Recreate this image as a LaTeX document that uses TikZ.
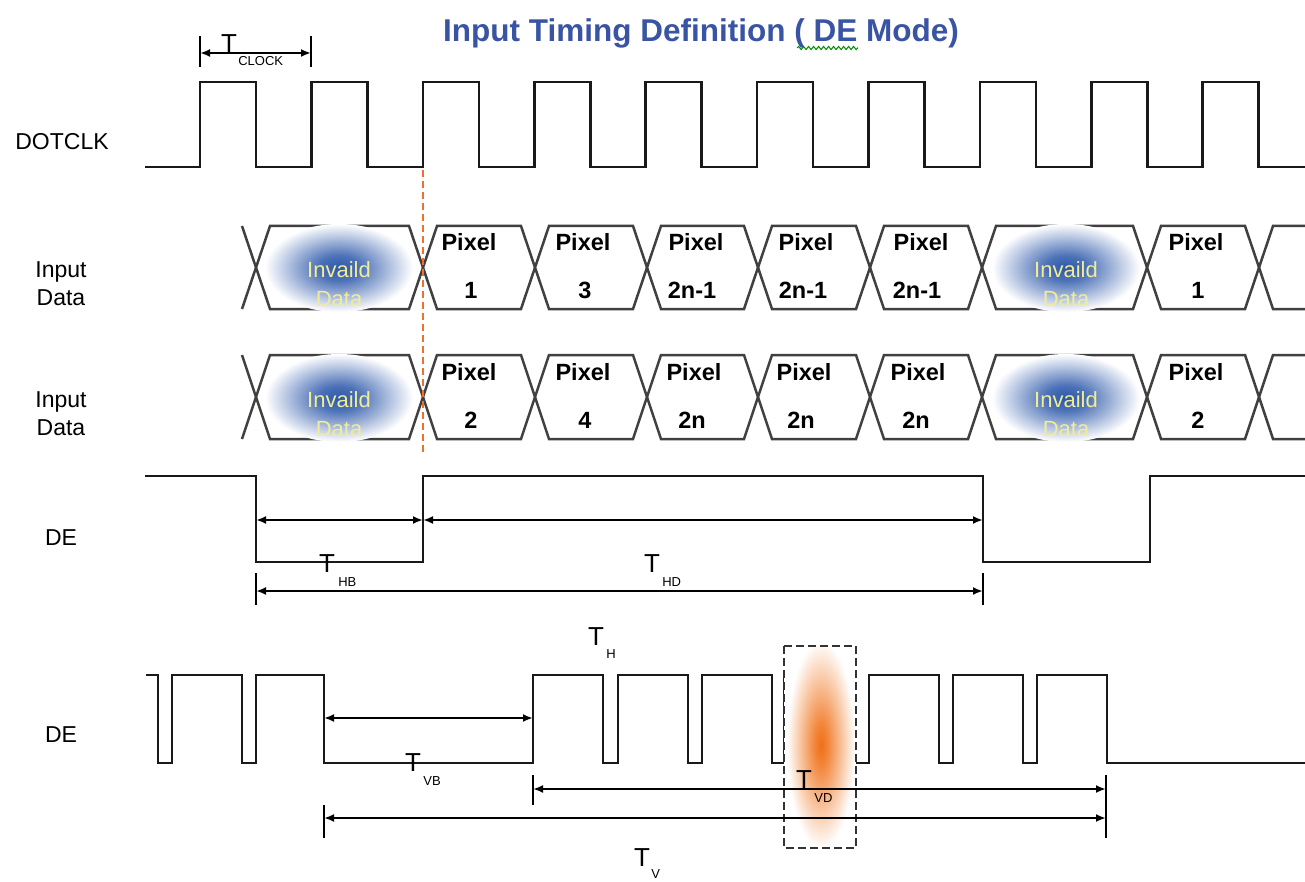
\documentclass[tikz,border=0pt]{standalone}
\usepackage{fontspec}
\setmainfont{Liberation Sans}
\usepackage{xcolor}
\usetikzlibrary{
    arrows.meta,
    positioning,
    calc,
    decorations.pathmorphing
}
\definecolor{titleblue}{RGB}{58,84,164}
\definecolor{blobblue}{RGB}{44,88,170}
\definecolor{bloborange}{RGB}{240,112,24}
\definecolor{paleyellow}{RGB}{242,236,150}
\definecolor{markline}{RGB}{238,112,48}
\pgfdeclareradialshading{invalidblob}{\pgfpoint{0bp}{0bp}}{%
    color(0bp)=(blobblue); color(7bp)=(blobblue!85); color(25bp)=(white); color(50bp)=(white)}
\pgfdeclareradialshading{markblob}{\pgfpoint{0bp}{0bp}}{%
    color(0bp)=(bloborange); color(5bp)=(bloborange!85); color(25bp)=(white); color(50bp)=(white)}
\tikzset{%
    >={Latex[width=8pt,length=10pt]},
    % Specifications for style of nodes:
    wave/.style = {line width=2.6pt, draw=black!90, line join=miter},
    bus/.style = {line width=2.5pt, draw=black!75, line join=miter},
    dim/.style = {<->, line width=2pt},
    bar/.style = {line width=2pt},
    marker/.style = {draw=markline, line width=2.6pt, dash pattern=on 7pt off 4pt},
    boxdash/.style = {draw=black!80, line width=2.6pt, dash pattern=on 8pt off 4pt},
    squiggle/.style = {draw=green!55!black, line width=1pt, decorate,
        decoration={snake, amplitude=1.6pt, segment length=5pt}},
    siglabel/.style = {inner sep=0pt, align=center, font=\fontsize{23}{28}\selectfont},
    pix/.style = {inner sep=0pt, font=\bfseries\fontsize{23.5}{24}\selectfont},
    invalid/.style = {inner sep=0pt, text=paleyellow, font=\fontsize{22}{22}\selectfont},
    tlabel/.style = {inner sep=0pt, font=\fontsize{26}{26}\selectfont},
    tsub/.style = {inner sep=0pt, font=\fontsize{13}{13}\selectfont},
    title/.style = {inner sep=0pt, text=titleblue, font=\bfseries\fontsize{31.5}{32}\selectfont}
}
\begin{document}
\begin{tikzpicture}[x=1pt, y=-1pt]
    \useasboundingbox (0,0) rectangle (1305,882);
    \fill[white] (0,0) rectangle (1305,882);

    \node[title] (title) at (701,33) {Input Timing Definition ( DE Mode)};
    \draw[squiggle] (797,48) -- (858,48);

    \node[siglabel] (clk) at (62,142) {DOTCLK};
    \node[siglabel] (in1) at (61,284) {Input\\Data};
    \node[siglabel] (in2) at (61,414) {Input\\Data};
    \node[siglabel] (de1) at (61,538) {DE};
    \node[siglabel] (de2) at (61,735) {DE};

    % clock and its period
    \draw[wave] (145,167) foreach \k in {0,...,9} {
        -- ({200+111.4*\k},167) -- ({200+111.4*\k},82)
        -- ({256+111.4*\k},82) -- ({256+111.4*\k},167)} -- (1305,167);
    \draw[bar] (200,36) -- (200,67) (311,36) -- (311,67);
    \coordinate (clkA) at (200,53);
    \coordinate (clkB) at (311,53);
    \draw[dim] (clkA) -- (clkB);
    \node[tlabel] (tclk) at (229,44) {T};
    \node[tsub, below right=3pt and 1pt of tclk] (tclks) {CLOCK};

    % data buses
    \foreach \t/\b in {226/309,355/439} {
        \pgfmathsetmacro{\m}{(\t+\b)/2}
        \draw[bus] (242,\t) -- (256,\m) -- (242,\b);
        \foreach \a/\c in {256/423,423/535,535/647,647/758,758/870,870/982,982/1147,1147/1259}
            \draw[bus] (\a,\m) -- (\a+14,\t) -- (\c-14,\t) -- (\c,\m) -- (\c-14,\b) -- (\a+14,\b) -- cycle;
        \draw[bus] (1305,\t) -- (1273,\t) -- (1259,\m) -- (1273,\b) -- (1305,\b);
    }
    \foreach \y [count=\i] in {268,398}
        \foreach \x [count=\j] in {339,1066} {
            \shade[shading=invalidblob] (\x,\y) ellipse [x radius=74pt, y radius=44pt];
            \node[invalid] (inv\i\j) at (\x,\y+2) {Invaild};
            \node[invalid] (invd\i\j) at (\x,\y+31) {Data};
        }
    \foreach \px/\nx/\n [count=\i] in {469/471/1, 583/585/3, 696/692/2n-1, 806/803/2n-1, 921/917/2n-1, 1196/1198/1} {
        \node[pix] (pa\i) at (\px,242) {Pixel};
        \node[pix] (na\i) at (\nx,290) {\n};
    }
    \foreach \px/\nx/\n [count=\i] in {469/471/2, 583/585/4, 694/692/2n, 804/801/2n, 918/916/2n, 1196/1198/2} {
        \node[pix] (pb\i) at (\px,372) {Pixel};
        \node[pix] (nb\i) at (\nx,420) {\n};
    }
    \draw[marker] (423,170) -- (423,455);

    % DE, line timing
    \draw[wave] (145,476) -- (256,476) -- (256,562) -- (423,562) -- (423,476) -- (983,476)
        -- (983,562) -- (1150,562) -- (1150,476) -- (1305,476);
    \coordinate (hbA) at (256,520);
    \coordinate (hbB) at (423,520);
    \coordinate (hdB) at (983,520);
    \draw[dim] (hbA) -- (hbB);
    \draw[dim] (hbB) -- (hdB);
    \draw[bar] (256,573) -- (256,605) (983,573) -- (983,605);
    \coordinate (hA) at (256,591);
    \coordinate (hB) at (983,591);
    \draw[dim] (hA) -- (hB);
    \node[tlabel] (thb) at (327,564) {T};
    \node[tsub, below right=4pt and 3pt of thb] (thbs) {HB};
    \node[tlabel] (thd) at (652,564) {T};
    \node[tsub, below right=4pt and 2pt of thd] (thds) {HD};

    % DE, frame timing
    \draw[wave] (146,675) -- (158,675) -- (158,763) -- (172,763) -- (172,675) -- (242,675)
        -- (242,763) -- (256,763) -- (256,675) -- (324,675) -- (324,763) -- (533,763)
        foreach \s in {533,618,702,784,869,953,1037} {
            -- (\s,763) -- (\s,675) -- (\s+70,675) -- (\s+70,763)} -- (1305,763);
    \fill[white] (784,646) rectangle (856,848);
    \shade[shading=markblob] (821,745) ellipse [x radius=34pt, y radius=104pt];
    \draw[boxdash] (784,646) rectangle (856,848);
    \coordinate (vbA) at (324,718);
    \coordinate (vbB) at (533,718);
    \draw[dim] (vbA) -- (vbB);
    \draw[bar] (533,775) -- (533,805) (1106,775) -- (1106,838) (324,805) -- (324,838);
    \coordinate (vdA) at (533,789);
    \coordinate (vdB) at (1106,789);
    \draw[dim] (vdA) -- (vdB);
    \coordinate (vA) at (324,818);
    \coordinate (vB) at (1106,818);
    \draw[dim] (vA) -- (vB);
    \node[tlabel] (th) at (596,637) {T};
    \node[tsub, below right=3pt and 2pt of th] (ths) {H};
    \node[tlabel] (tvb) at (413,763) {T};
    \node[tsub, below right=4pt and 2pt of tvb] (tvbs) {VB};
    \node[tlabel] (tvd) at (804,780) {T};
    \node[tsub, below right=4pt and 2pt of tvd] (tvds) {VD};
    \node[tlabel] (tv) at (642,858) {T};
    \node[tsub, below right=2pt and 1pt of tv] (tvs) {V};
\end{tikzpicture}
\end{document}
